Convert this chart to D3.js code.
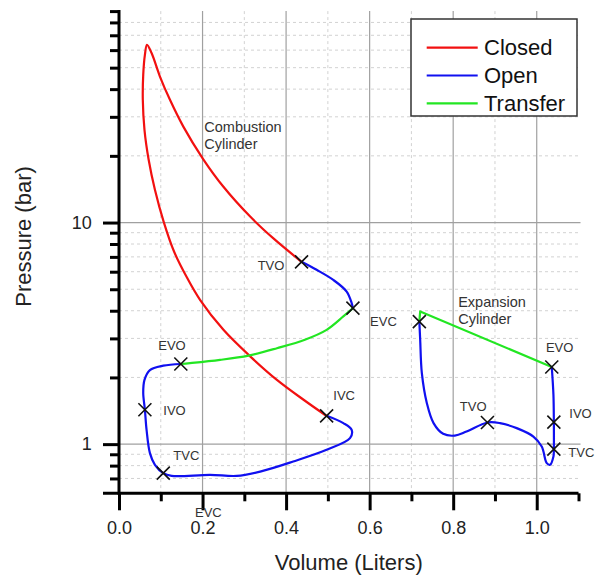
<!DOCTYPE html>
<html><head><meta charset="utf-8">
<script src="https://cdn.jsdelivr.net/npm/d3@7"></script>
<style>body{margin:0;background:#fff;} text{font-family:"Liberation Sans",Arial,sans-serif;}</style>
</head><body><svg id="c" width="597" height="581"></svg>
<script>
// ---- data: [volume (L), pressure (bar)] ----
const closedCombustion = [[0.497,1.34],[0.441,1.59],[0.378,1.95],[0.314,2.49],[0.250,3.28],[0.194,4.48],[0.163,5.63],[0.132,7.38],[0.107,10.07],[0.086,14.05],[0.071,19.2],[0.061,26.2],[0.057,35.8],[0.058,46.4],[0.062,57.1],[0.067,63.4],[0.078,58.2],[0.098,45.6],[0.122,35.8],[0.154,27.1],[0.201,19.4],[0.250,14.5],[0.314,10.64],[0.369,8.50],[0.437,6.65]];
const openCombustionA = [[0.437,6.65],[0.473,6.12],[0.513,5.51],[0.545,4.88],[0.557,4.33],[0.560,4.11]];
const transferCombustion = [[0.560,4.11],[0.537,3.77],[0.497,3.28],[0.445,2.96],[0.378,2.71],[0.310,2.51],[0.242,2.40],[0.170,2.32],[0.148,2.30]];
const openCombustionB = [[0.148,2.30],[0.106,2.26],[0.074,2.16],[0.061,1.95],[0.058,1.70],[0.062,1.43],[0.066,1.16],[0.074,0.911],[0.086,0.807],[0.106,0.740],[0.126,0.719],[0.218,0.727],[0.282,0.719],[0.338,0.752],[0.417,0.835],[0.497,0.943],[0.553,1.064],[0.557,1.16],[0.537,1.244],[0.497,1.342]];
const transferExpansion = [[0.719,3.57],[0.721,3.97],[1.036,2.23]];
const openExpansion = [[0.719,3.57],[0.721,2.96],[0.725,2.09],[0.737,1.53],[0.753,1.244],[0.776,1.113],[0.804,1.093],[0.832,1.140],[0.882,1.252],[0.912,1.244],[0.952,1.181],[0.992,1.082],[1.012,0.975],[1.024,0.821],[1.032,0.807],[1.040,0.879],[1.041,0.949],[1.041,1.257],[1.040,1.669],[1.036,2.23]];
const valveEvents = [
  {v:0.437,p:6.65},{v:0.560,p:4.11},{v:0.497,p:1.342},{v:0.148,p:2.30},{v:0.062,p:1.43},{v:0.106,p:0.740},
  {v:0.719,p:3.57},{v:0.882,p:1.252},{v:1.036,p:2.23},{v:1.041,p:1.257},{v:1.041,p:0.949}
];
const eventLabels = [
  {t:"TVO",v:0.332,p:6.12},{t:"EVC",v:0.601,p:3.42},{t:"IVC",v:0.513,p:1.585},{t:"EVO",v:0.094,p:2.646},
  {t:"IVO",v:0.106,p:1.356},{t:"TVC",v:0.130,p:0.850},{t:"EVC",v:0.182,p:0.468},
  {t:"EVO",v:1.022,p:2.617},{t:"TVO",v:0.816,p:1.418},{t:"IVO",v:1.078,p:1.310},{t:"TVC",v:1.0757,p:0.879}
];
const cylinderLabels = [
  {t:"Combustion",v:0.2042,p:25.74},{t:"Cylinder",v:0.2042,p:21.44},
  {t:"Expansion",v:0.812,p:4.178},{t:"Cylinder",v:0.812,p:3.479}
];
const volumeTicks = [0,0.1,0.2,0.3,0.4,0.5,0.6,0.7,0.8,0.9,1.0,1.1];
const volumeMajor = [0,0.2,0.4,0.6,0.8,1.0];
const pressureMajor = [1,10];
const pressureMinor = [0.7,0.8,0.9,2,3,4,5,6,7,8,9,20,30,40,50,60,70,80,90];
const legendItems = [{name:"Closed",color:"#f21010"},{name:"Open",color:"#1010f0"},{name:"Transfer",color:"#22e622"}];

// ---- chart ----
const svg = d3.select("#c");
const x = d3.scaleLinear().domain([0,1.1]).range([119,578.5]);
const y = d3.scaleLog().domain([0.6,90]).range([493.3,11.1]);
const [x0,x1] = x.range(), [y0,y1] = y.range();

const grid = svg.append("g");
volumeTicks.filter(v=>v>0 && v<1.1).forEach(v=>{
  const major = volumeMajor.includes(v);
  grid.append("line").attr("x1",x(v)).attr("x2",x(v)).attr("y1",y1).attr("y2",y0)
    .attr("stroke",major?"#a0a0a0":"#d2d2d2").attr("stroke-width",major?1.2:1)
    .attr("stroke-dasharray",major?null:"3,3");
});
pressureMinor.filter(p=>p<90).forEach(p=>{
  grid.append("line").attr("x1",x0).attr("x2",x1).attr("y1",y(p)).attr("y2",y(p))
    .attr("stroke","#d2d2d2").attr("stroke-dasharray","3,3");
});
pressureMajor.forEach(p=>{
  grid.append("line").attr("x1",x0).attr("x2",x1+2).attr("y1",y(p)).attr("y2",y(p))
    .attr("stroke","#a0a0a0").attr("stroke-width",1.2);
});

const line = d3.line().x(d=>x(d[0])).y(d=>y(d[1])).curve(d3.curveCatmullRom.alpha(0.5));
const lineStraight = d3.line().x(d=>x(d[0])).y(d=>y(d[1]));
const curves = [
  [closedCombustion,legendItems[0].color,line],
  [openCombustionA,legendItems[1].color,line],
  [transferCombustion,legendItems[2].color,line],
  [openCombustionB,legendItems[1].color,line],
  [transferExpansion,legendItems[2].color,lineStraight],
  [openExpansion,legendItems[1].color,line]
];
curves.forEach(([d,c,l])=>{
  svg.append("path").attr("d",l(d)).attr("fill","none").attr("stroke",c).attr("stroke-width",2.2)
    .attr("stroke-linejoin","round");
});

svg.append("g").selectAll("path").data(valveEvents).join("path")
  .attr("transform",d=>`translate(${x(d.v)},${y(d.p)})`)
  .attr("d","M-6.5,-6.5L6.5,6.5M-6.5,6.5L6.5,-6.5")
  .attr("stroke","#111").attr("stroke-width",1.6).attr("fill","none");

// axes
const axStyle = g=>{ g.select(".domain").remove(); g.selectAll("line").attr("stroke","#000").attr("stroke-width",3);
  g.selectAll("text").attr("font-size",18).attr("fill","#222").attr("font-family","Liberation Sans, Arial, sans-serif"); };
svg.append("g").attr("transform",`translate(0,${y0})`)
  .call(d3.axisBottom(x).tickValues(volumeTicks.filter(v=>!volumeMajor.includes(v))).tickSize(8).tickFormat(""))
  .call(axStyle);
svg.append("g").attr("transform",`translate(0,${y0})`)
  .call(d3.axisBottom(x).tickValues(volumeMajor).tickSize(17).tickPadding(11.4).tickFormat(d3.format(".1f")))
  .call(axStyle);
svg.append("g").attr("transform",`translate(${x0},0)`)
  .call(d3.axisLeft(y).tickValues(pressureMinor).tickSize(9).tickFormat(""))
  .call(axStyle);
svg.append("g").attr("transform",`translate(${x0},0)`)
  .call(d3.axisLeft(y).tickValues(pressureMajor).tickSize(16).tickPadding(11.3).tickFormat(d3.format("d")))
  .call(axStyle);
svg.append("line").attr("x1",x0-16).attr("x2",x1).attr("y1",y0).attr("y2",y0).attr("stroke","#000").attr("stroke-width",3);
svg.append("line").attr("x1",x0).attr("x2",x0).attr("y1",y1-1).attr("y2",y0+1.5).attr("stroke","#000").attr("stroke-width",3);

svg.append("text").attr("x",(x0+x1)/2).attr("y",570).attr("text-anchor","middle")
  .attr("font-size",22).attr("fill","#222").text("Volume (Liters)");
svg.append("text").attr("transform","translate(31,236.5) rotate(-90)").attr("text-anchor","middle")
  .attr("font-size",22).attr("fill","#222").text("Pressure (bar)");

svg.append("g").selectAll("text").data(eventLabels).join("text")
  .attr("x",d=>x(d.v)).attr("y",d=>y(d.p)).attr("font-size",13).attr("fill","#333").text(d=>d.t);
svg.append("g").selectAll("text").data(cylinderLabels).join("text")
  .attr("x",d=>x(d.v)).attr("y",d=>y(d.p)).attr("font-size",14.5).attr("fill","#333").text(d=>d.t);

// legend
const lg = svg.append("g");
lg.append("rect").attr("x",411).attr("y",19).attr("width",166).attr("height",97)
  .attr("fill","#fff").attr("stroke","#333").attr("stroke-width",1.5);
legendItems.forEach((it,i)=>{
  const cy = 47.7 + i*27.8;
  lg.append("line").attr("x1",426.7).attr("x2",477.7).attr("y1",cy).attr("y2",cy).attr("stroke",it.color).attr("stroke-width",2.2);
  lg.append("text").attr("x",484).attr("y",cy+7.5).attr("font-size",22).attr("fill","#111").text(it.name);
});
</script></body></html>
